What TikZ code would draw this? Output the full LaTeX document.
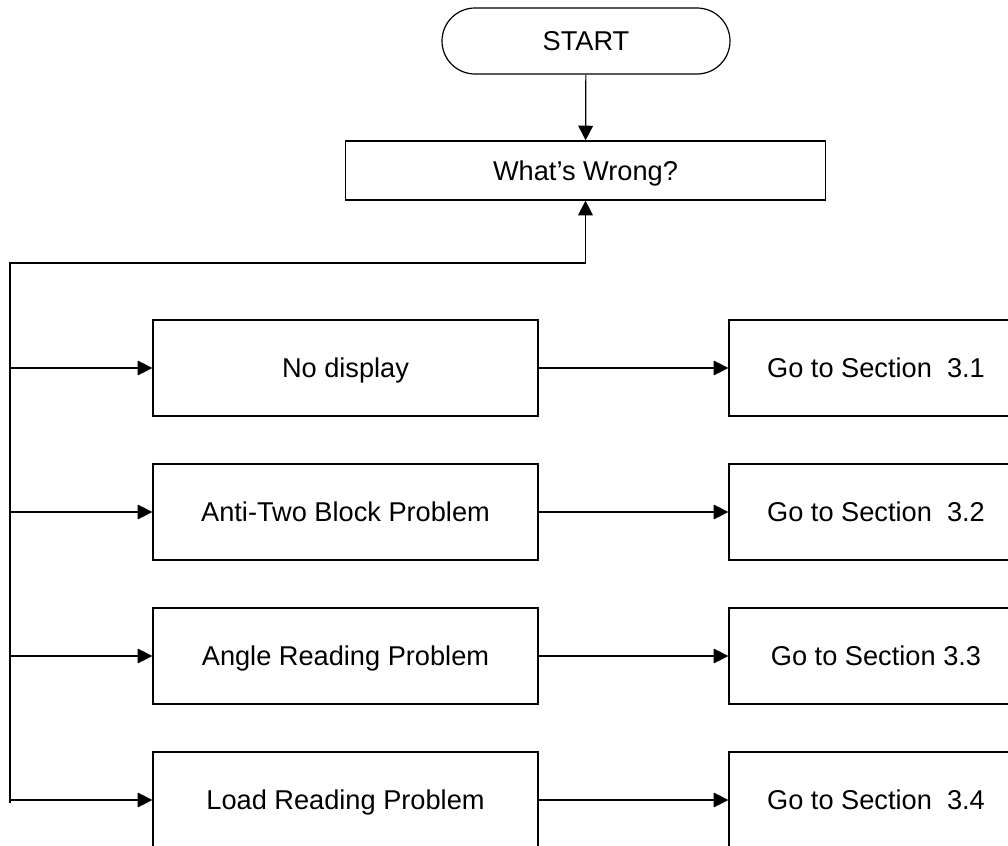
\documentclass[tikz,border=0pt]{standalone}
\usepackage{fontspec}
\setmainfont{Liberation Sans}
\usetikzlibrary{arrows.meta}
\begin{document}
\begin{tikzpicture}[x=0.75pt, y=-0.75pt, line width=0.9pt,
  every node/.style={font=\fontsize{20.4}{24}\selectfont, inner sep=0pt,
    text height=14.6pt, text depth=0pt},
  problem/.style={draw, rectangle, minimum width=288.75pt, minimum height=72pt},
  target/.style={draw, rectangle, minimum width=220.5pt, minimum height=72pt},
  arr/.style={-{Triangle[length=11pt, width=11pt]}}]

  % page frame; the right column and the last row run past it
  \path[use as bounding box, clip] (0,0) rectangle (1008,846);

  % start and question
  \node[draw, rectangle, rounded corners=24.75pt, minimum width=216pt, minimum height=49.5pt] (start) at (586,41) {START};
  \node[draw, rectangle, minimum width=360pt, minimum height=44.25pt] (wrong) at (585.5,170.5) {What’s Wrong?};
  \draw[arr] (start) -- (wrong);

  % problems
  \node[problem] (p1) at (345.5,368) {No display};
  \node[problem] (p2) at (345.5,512) {Anti-Two Block Problem};
  \node[problem] (p3) at (345.5,656) {Angle Reading Problem};
  \node[problem] (p4) at (345.5,800) {Load Reading Problem};

  % where to go next
  \node[target] (g1) at (876,368) {Go to Section\ \ 3.1};
  \node[target] (g2) at (876,512) {Go to Section\ \ 3.2};
  \node[target] (g3) at (876,656) {Go to Section 3.3};
  \node[target] (g4) at (876,800) {Go to Section\ \ 3.4};

  % feedback bus on the left
  \coordinate (bustop) at (10,263);
  \coordinate (busend) at (10,803);
  \draw[arr] (busend) -- (bustop) -| (wrong.south);

  \foreach \i in {1,...,4} {
    \draw[arr] (p\i.west -| bustop) -- (p\i.west);
    \draw[arr] (p\i) -- (g\i);
  }
\end{tikzpicture}
\end{document}
